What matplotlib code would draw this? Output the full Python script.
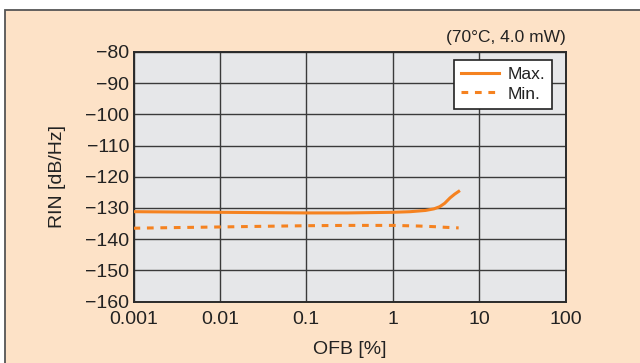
import matplotlib

matplotlib.use("Agg")
import matplotlib.pyplot as plt
from matplotlib.patches import Rectangle
from matplotlib.ticker import FixedLocator, NullLocator

# --- data ------------------------------------------------------------------ #
ofb_max = [0.001, 0.003, 0.01, 0.03, 0.1, 0.3, 1.0, 1.6, 2.4, 3.0, 3.5, 4.0, 4.6, 5.2, 5.8]
rin_max = [-131.2, -131.3, -131.4, -131.5, -131.6, -131.6, -131.4, -131.2, -130.8, -130.3,
           -129.6, -128.5, -126.8, -125.6, -124.7]

ofb_min = [0.001, 0.003, 0.01, 0.03, 0.1, 0.3, 1.0, 2.0, 3.0, 4.0, 5.8]
rin_min = [-136.5, -136.3, -136.1, -135.9, -135.7, -135.6, -135.6, -135.8, -136.0, -136.2, -136.4]

x_ticks = [0.001, 0.01, 0.1, 1, 10, 100]
x_labels = ["0.001", "0.01", "0.1", "1", "10", "100"]
y_ticks = list(range(-160, -79, 10))
y_labels = [f"\u2212{abs(v)}" for v in y_ticks]

ORANGE = "#F58220"
PANEL = "#FDE2C7"
GRID = "#3a3a3a"
TXT = "#222222"

plt.rcParams["font.family"] = ["Liberation Sans", "DejaVu Sans"]

fig = plt.figure(figsize=(6.4, 3.63), dpi=100)
fig.patch.set_facecolor("white")

# orange panel with a dark border on top / left
fig.patches.append(Rectangle((4.5 / 640, -0.05), 1.2, 1 - 10 / 363 + 0.05,
                             transform=fig.transFigure, facecolor=PANEL,
                             edgecolor="#555555", linewidth=1.3, zorder=-10))

ax = fig.add_axes([133.5 / 640, 1 - 301.5 / 363, (565.5 - 133.5) / 640, (301.5 - 52) / 363])
ax.set_facecolor("#E6E7E9")

ax.plot(ofb_max, rin_max, color=ORANGE, lw=2.2, label="Max.", zorder=3)
ax.plot(ofb_min, rin_min, color=ORANGE, lw=2.2, ls=(0, (2.2, 2.2)), label="Min.", zorder=3)

ax.set_xscale("log")
ax.set_xlim(0.001, 100)
ax.set_ylim(-160, -80)
ax.xaxis.set_major_locator(FixedLocator(x_ticks))
ax.xaxis.set_minor_locator(NullLocator())
ax.set_xticklabels(x_labels)
ax.set_yticks(y_ticks)
ax.set_yticklabels(y_labels)
ax.tick_params(length=0, labelsize=14, colors=TXT, pad=3)
ax.tick_params(axis="x", pad=7)

ax.grid(True, color=GRID, lw=1.0)
ax.set_axisbelow(True)
for s in ax.spines.values():
    s.set_color("#2a2a2a")
    s.set_linewidth(1.4)

ax.set_xlabel("OFB [%]", fontsize=14, color=TXT, labelpad=9)
ax.set_ylabel("RIN [dB/Hz]", fontsize=14, color=TXT, labelpad=14)

ax.text(1.0, 1.03, "(70\u00b0C, 4.0 mW)", transform=ax.transAxes, ha="right",
        va="bottom", fontsize=12.5, color=TXT)

leg = ax.legend(loc="upper right", bbox_to_anchor=(0.969, 0.968), fontsize=12.5,
                frameon=True, fancybox=False, handlelength=2.2, handletextpad=0.5,
                borderpad=0.4, labelspacing=0.25, borderaxespad=0)
leg.get_frame().set_edgecolor(TXT)
leg.get_frame().set_linewidth(1.2)
leg.get_frame().set_facecolor("white")
leg.get_frame().set_alpha(1)
for t in leg.get_texts():
    t.set_color(TXT)

fig.savefig("out.png", dpi=100, facecolor=fig.get_facecolor())
